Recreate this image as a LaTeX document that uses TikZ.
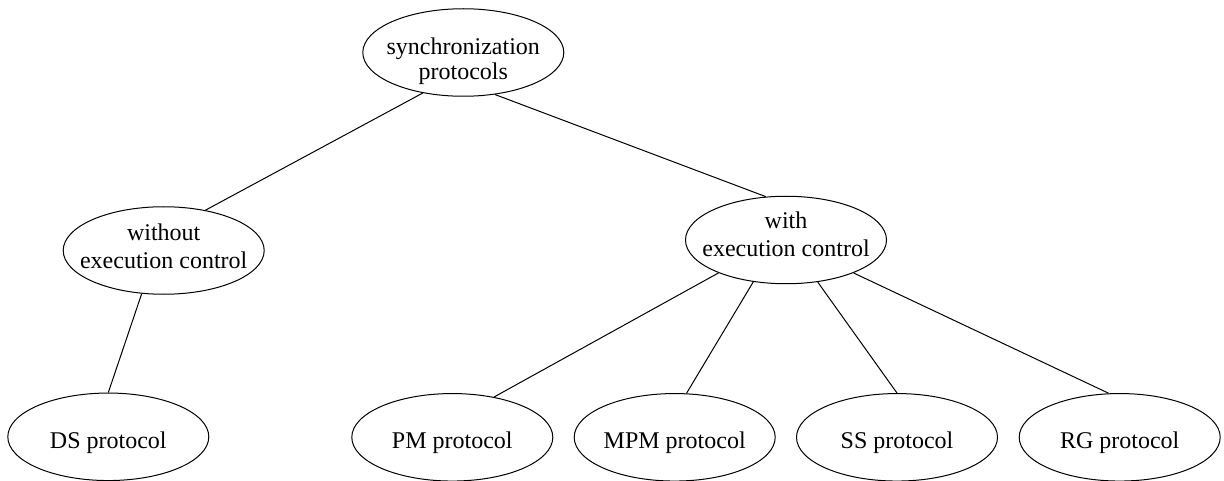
\documentclass[tikz,border=0pt]{standalone}
\usepackage{fontspec}
\setmainfont{Liberation Serif}
\usetikzlibrary{shapes.geometric}
\begin{document}
\begin{tikzpicture}[x=1pt,y=-1pt,
  el/.style={draw, ellipse, line width=1pt, inner sep=0pt, minimum width=201pt, minimum height=87.5pt},
  lbl/.style={align=center, inner sep=0pt, font=\fontsize{24}{28.3}\selectfont},
  edge/.style={draw, line width=1pt}]
\useasboundingbox (0,0) rectangle (1224,481);
\node[el, label={[lbl, font=\fontsize{24}{25}\selectfont, yshift=-8.7pt]center:synchronization\\protocols}] (root) at (463.3,52.5) {};
\node[el, label={[lbl, yshift=4.5pt]center:without\\execution control}] (wo) at (163.7,250.5) {};
\node[el, label={[lbl, yshift=5.7pt]center:with\\execution control}] (wi) at (786,240) {};
\node[el, label={[lbl, yshift=-5.5pt]center:DS protocol}] (ds) at (108.3,436.8) {};
\node[el, label={[lbl, yshift=-5.5pt]center:PM protocol}] (pm) at (452.3,437.3) {};
\node[el, label={[lbl, yshift=-5.5pt]center:MPM protocol}] (mpm) at (674.7,437.3) {};
\node[el, label={[lbl, yshift=-5.5pt]center:SS protocol}] (ss) at (897,437.3) {};
\node[el, label={[lbl, yshift=-5.5pt]center:RG protocol}] (rg) at (1119.7,437.3) {};
\draw[edge] (root.225.1) -- (wo.44.5);
\draw[edge] (root.307.1) -- (wi.115.5);
\draw[edge] (wo.243.7) -- (ds.90);
\draw[edge] (wi.206.4) -- (pm.44.7);
\draw[edge] (wi.232.9) -- (mpm.75.6);
\draw[edge] (wi.307.1) -- (ss.90);
\draw[edge] (wi.334.4) -- (rg.104.5);
\end{tikzpicture}
\end{document}
